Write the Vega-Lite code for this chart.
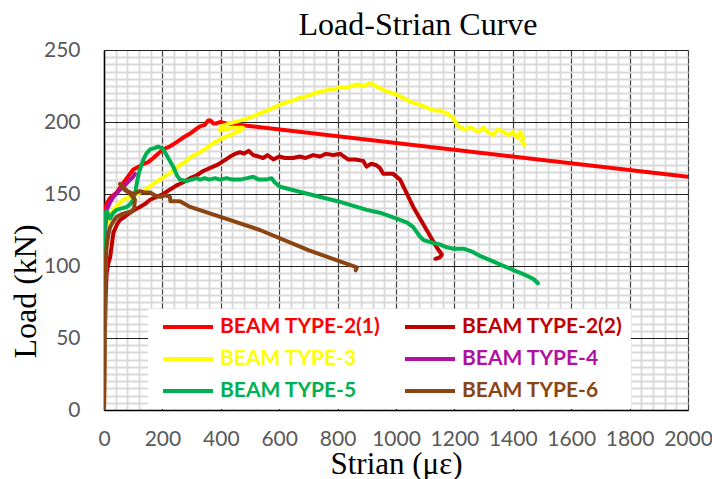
{
  "$schema": "https://vega.github.io/schema/vega-lite/v6.json",
  "autosize": "none",
  "width": 584,
  "height": 360,
  "padding": {"left": 104, "top": 50, "right": 24, "bottom": 69},
  "background": "white",
  "title": {"text": "Load-Strian Curve", "font": "Liberation Serif", "fontSize": 32, "fontWeight": "normal", "color": "black", "anchor": "middle", "dx": 22, "dy": 5, "offset": 2},
  "config": {"view": {"stroke": null}},
  "data": {"values": [
    {"s":"BEAM TYPE-2(1)","x":0,"y":0},{"s":"BEAM TYPE-2(1)","x":0,"y":60},{"s":"BEAM TYPE-2(1)","x":1,"y":120},{"s":"BEAM TYPE-2(1)","x":3,"y":138},{"s":"BEAM TYPE-2(1)","x":8,"y":143},{"s":"BEAM TYPE-2(1)","x":20,"y":147},{"s":"BEAM TYPE-2(1)","x":43,"y":151},{"s":"BEAM TYPE-2(1)","x":60,"y":156},{"s":"BEAM TYPE-2(1)","x":78,"y":161},{"s":"BEAM TYPE-2(1)","x":100,"y":167},{"s":"BEAM TYPE-2(1)","x":120,"y":169},{"s":"BEAM TYPE-2(1)","x":135,"y":171},{"s":"BEAM TYPE-2(1)","x":150,"y":172},{"s":"BEAM TYPE-2(1)","x":169,"y":175},{"s":"BEAM TYPE-2(1)","x":185,"y":178},{"s":"BEAM TYPE-2(1)","x":203,"y":181},{"s":"BEAM TYPE-2(1)","x":225,"y":183},{"s":"BEAM TYPE-2(1)","x":249,"y":186},{"s":"BEAM TYPE-2(1)","x":270,"y":189},{"s":"BEAM TYPE-2(1)","x":295,"y":192},{"s":"BEAM TYPE-2(1)","x":315,"y":195},{"s":"BEAM TYPE-2(1)","x":329,"y":197},{"s":"BEAM TYPE-2(1)","x":345,"y":198},{"s":"BEAM TYPE-2(1)","x":357,"y":201},{"s":"BEAM TYPE-2(1)","x":365,"y":201},{"s":"BEAM TYPE-2(1)","x":374,"y":199},{"s":"BEAM TYPE-2(1)","x":385,"y":199},{"s":"BEAM TYPE-2(1)","x":397,"y":200},{"s":"BEAM TYPE-2(1)","x":420,"y":199},{"s":"BEAM TYPE-2(1)","x":2000,"y":162},

    {"s":"BEAM TYPE-2(2)","x":0,"y":0},{"s":"BEAM TYPE-2(2)","x":3,"y":50},{"s":"BEAM TYPE-2(2)","x":6,"y":80},{"s":"BEAM TYPE-2(2)","x":9,"y":95},{"s":"BEAM TYPE-2(2)","x":15,"y":102},{"s":"BEAM TYPE-2(2)","x":21,"y":106},{"s":"BEAM TYPE-2(2)","x":27,"y":115},{"s":"BEAM TYPE-2(2)","x":32,"y":123},{"s":"BEAM TYPE-2(2)","x":45,"y":129},{"s":"BEAM TYPE-2(2)","x":55,"y":132},{"s":"BEAM TYPE-2(2)","x":70,"y":134},{"s":"BEAM TYPE-2(2)","x":89,"y":137},{"s":"BEAM TYPE-2(2)","x":105,"y":139},{"s":"BEAM TYPE-2(2)","x":123,"y":141},{"s":"BEAM TYPE-2(2)","x":140,"y":143},{"s":"BEAM TYPE-2(2)","x":158,"y":146},{"s":"BEAM TYPE-2(2)","x":180,"y":148},{"s":"BEAM TYPE-2(2)","x":203,"y":150},{"s":"BEAM TYPE-2(2)","x":225,"y":153},{"s":"BEAM TYPE-2(2)","x":249,"y":156},{"s":"BEAM TYPE-2(2)","x":270,"y":158},{"s":"BEAM TYPE-2(2)","x":295,"y":161},{"s":"BEAM TYPE-2(2)","x":318,"y":163},{"s":"BEAM TYPE-2(2)","x":340,"y":166},{"s":"BEAM TYPE-2(2)","x":362,"y":168},{"s":"BEAM TYPE-2(2)","x":386,"y":170},{"s":"BEAM TYPE-2(2)","x":410,"y":173},{"s":"BEAM TYPE-2(2)","x":432,"y":176},{"s":"BEAM TYPE-2(2)","x":450,"y":178},{"s":"BEAM TYPE-2(2)","x":466,"y":179},{"s":"BEAM TYPE-2(2)","x":480,"y":178},{"s":"BEAM TYPE-2(2)","x":495,"y":180},{"s":"BEAM TYPE-2(2)","x":511,"y":177},{"s":"BEAM TYPE-2(2)","x":530,"y":176},{"s":"BEAM TYPE-2(2)","x":545,"y":175},{"s":"BEAM TYPE-2(2)","x":560,"y":177},{"s":"BEAM TYPE-2(2)","x":580,"y":174},{"s":"BEAM TYPE-2(2)","x":600,"y":176},{"s":"BEAM TYPE-2(2)","x":620,"y":175},{"s":"BEAM TYPE-2(2)","x":648,"y":175},{"s":"BEAM TYPE-2(2)","x":670,"y":176},{"s":"BEAM TYPE-2(2)","x":690,"y":175},{"s":"BEAM TYPE-2(2)","x":716,"y":177},{"s":"BEAM TYPE-2(2)","x":740,"y":176},{"s":"BEAM TYPE-2(2)","x":760,"y":178},{"s":"BEAM TYPE-2(2)","x":785,"y":177},{"s":"BEAM TYPE-2(2)","x":808,"y":178},{"s":"BEAM TYPE-2(2)","x":822,"y":176},{"s":"BEAM TYPE-2(2)","x":836,"y":174},{"s":"BEAM TYPE-2(2)","x":860,"y":174},{"s":"BEAM TYPE-2(2)","x":888,"y":173},{"s":"BEAM TYPE-2(2)","x":899,"y":169},{"s":"BEAM TYPE-2(2)","x":915,"y":171},{"s":"BEAM TYPE-2(2)","x":933,"y":170},{"s":"BEAM TYPE-2(2)","x":945,"y":168},{"s":"BEAM TYPE-2(2)","x":956,"y":164},{"s":"BEAM TYPE-2(2)","x":990,"y":164},{"s":"BEAM TYPE-2(2)","x":1014,"y":160},{"s":"BEAM TYPE-2(2)","x":1059,"y":141},{"s":"BEAM TYPE-2(2)","x":1105,"y":125},{"s":"BEAM TYPE-2(2)","x":1139,"y":113},{"s":"BEAM TYPE-2(2)","x":1157,"y":108},{"s":"BEAM TYPE-2(2)","x":1150,"y":106},{"s":"BEAM TYPE-2(2)","x":1135,"y":105},

    {"s":"BEAM TYPE-3","x":0,"y":0},{"s":"BEAM TYPE-3","x":2,"y":60},{"s":"BEAM TYPE-3","x":5,"y":110},{"s":"BEAM TYPE-3","x":9,"y":128},{"s":"BEAM TYPE-3","x":20,"y":134},{"s":"BEAM TYPE-3","x":32,"y":139},{"s":"BEAM TYPE-3","x":50,"y":143},{"s":"BEAM TYPE-3","x":66,"y":146},{"s":"BEAM TYPE-3","x":100,"y":149},{"s":"BEAM TYPE-3","x":135,"y":152},{"s":"BEAM TYPE-3","x":169,"y":157},{"s":"BEAM TYPE-3","x":190,"y":160},{"s":"BEAM TYPE-3","x":215,"y":163},{"s":"BEAM TYPE-3","x":240,"y":167},{"s":"BEAM TYPE-3","x":260,"y":170},{"s":"BEAM TYPE-3","x":283,"y":173},{"s":"BEAM TYPE-3","x":300,"y":176},{"s":"BEAM TYPE-3","x":320,"y":178},{"s":"BEAM TYPE-3","x":352,"y":182},{"s":"BEAM TYPE-3","x":380,"y":186},{"s":"BEAM TYPE-3","x":400,"y":188},{"s":"BEAM TYPE-3","x":420,"y":190},{"s":"BEAM TYPE-3","x":445,"y":192},{"s":"BEAM TYPE-3","x":466,"y":194},{"s":"BEAM TYPE-3","x":476,"y":196},{"s":"BEAM TYPE-3","x":440,"y":196},{"s":"BEAM TYPE-3","x":397,"y":194},{"s":"BEAM TYPE-3","x":400,"y":197},{"s":"BEAM TYPE-3","x":430,"y":199},{"s":"BEAM TYPE-3","x":466,"y":201},{"s":"BEAM TYPE-3","x":500,"y":203},{"s":"BEAM TYPE-3","x":534,"y":206},{"s":"BEAM TYPE-3","x":560,"y":208},{"s":"BEAM TYPE-3","x":580,"y":210},{"s":"BEAM TYPE-3","x":603,"y":212},{"s":"BEAM TYPE-3","x":630,"y":214},{"s":"BEAM TYPE-3","x":650,"y":215},{"s":"BEAM TYPE-3","x":671,"y":217},{"s":"BEAM TYPE-3","x":700,"y":218},{"s":"BEAM TYPE-3","x":720,"y":220},{"s":"BEAM TYPE-3","x":740,"y":221},{"s":"BEAM TYPE-3","x":760,"y":222},{"s":"BEAM TYPE-3","x":790,"y":223},{"s":"BEAM TYPE-3","x":808,"y":224},{"s":"BEAM TYPE-3","x":830,"y":224},{"s":"BEAM TYPE-3","x":850,"y":225},{"s":"BEAM TYPE-3","x":870,"y":226},{"s":"BEAM TYPE-3","x":890,"y":225},{"s":"BEAM TYPE-3","x":911,"y":227},{"s":"BEAM TYPE-3","x":960,"y":222},{"s":"BEAM TYPE-3","x":1002,"y":219},{"s":"BEAM TYPE-3","x":1050,"y":214},{"s":"BEAM TYPE-3","x":1094,"y":211},{"s":"BEAM TYPE-3","x":1130,"y":208},{"s":"BEAM TYPE-3","x":1151,"y":208},{"s":"BEAM TYPE-3","x":1175,"y":206},{"s":"BEAM TYPE-3","x":1195,"y":203},{"s":"BEAM TYPE-3","x":1210,"y":198},{"s":"BEAM TYPE-3","x":1230,"y":195},{"s":"BEAM TYPE-3","x":1260,"y":196},{"s":"BEAM TYPE-3","x":1280,"y":193},{"s":"BEAM TYPE-3","x":1299,"y":196},{"s":"BEAM TYPE-3","x":1315,"y":193},{"s":"BEAM TYPE-3","x":1333,"y":191},{"s":"BEAM TYPE-3","x":1350,"y":195},{"s":"BEAM TYPE-3","x":1368,"y":193},{"s":"BEAM TYPE-3","x":1385,"y":191},{"s":"BEAM TYPE-3","x":1402,"y":193},{"s":"BEAM TYPE-3","x":1415,"y":189},{"s":"BEAM TYPE-3","x":1425,"y":193},{"s":"BEAM TYPE-3","x":1436,"y":189},{"s":"BEAM TYPE-3","x":1430,"y":187},{"s":"BEAM TYPE-3","x":1440,"y":184},

    {"s":"BEAM TYPE-4","x":0,"y":0},{"s":"BEAM TYPE-4","x":2,"y":80},{"s":"BEAM TYPE-4","x":4,"y":125},{"s":"BEAM TYPE-4","x":9,"y":139},{"s":"BEAM TYPE-4","x":20,"y":144},{"s":"BEAM TYPE-4","x":32,"y":148},{"s":"BEAM TYPE-4","x":50,"y":152},{"s":"BEAM TYPE-4","x":66,"y":155},{"s":"BEAM TYPE-4","x":85,"y":159},{"s":"BEAM TYPE-4","x":100,"y":162},{"s":"BEAM TYPE-4","x":106,"y":164},

    {"s":"BEAM TYPE-5","x":0,"y":0},{"s":"BEAM TYPE-5","x":1,"y":60},{"s":"BEAM TYPE-5","x":2,"y":120},{"s":"BEAM TYPE-5","x":3,"y":137},{"s":"BEAM TYPE-5","x":10,"y":138},{"s":"BEAM TYPE-5","x":21,"y":133},{"s":"BEAM TYPE-5","x":32,"y":137},{"s":"BEAM TYPE-5","x":43,"y":139},{"s":"BEAM TYPE-5","x":60,"y":140},{"s":"BEAM TYPE-5","x":78,"y":141},{"s":"BEAM TYPE-5","x":90,"y":143},{"s":"BEAM TYPE-5","x":100,"y":146},{"s":"BEAM TYPE-5","x":106,"y":150},{"s":"BEAM TYPE-5","x":112,"y":157},{"s":"BEAM TYPE-5","x":120,"y":165},{"s":"BEAM TYPE-5","x":135,"y":174},{"s":"BEAM TYPE-5","x":145,"y":178},{"s":"BEAM TYPE-5","x":158,"y":181},{"s":"BEAM TYPE-5","x":175,"y":182},{"s":"BEAM TYPE-5","x":186,"y":183},{"s":"BEAM TYPE-5","x":195,"y":182},{"s":"BEAM TYPE-5","x":203,"y":181},{"s":"BEAM TYPE-5","x":220,"y":175},{"s":"BEAM TYPE-5","x":237,"y":169},{"s":"BEAM TYPE-5","x":250,"y":163},{"s":"BEAM TYPE-5","x":260,"y":160},{"s":"BEAM TYPE-5","x":283,"y":159},{"s":"BEAM TYPE-5","x":300,"y":160},{"s":"BEAM TYPE-5","x":315,"y":161},{"s":"BEAM TYPE-5","x":329,"y":160},{"s":"BEAM TYPE-5","x":345,"y":161},{"s":"BEAM TYPE-5","x":360,"y":160},{"s":"BEAM TYPE-5","x":380,"y":161},{"s":"BEAM TYPE-5","x":397,"y":160},{"s":"BEAM TYPE-5","x":420,"y":161},{"s":"BEAM TYPE-5","x":440,"y":160},{"s":"BEAM TYPE-5","x":466,"y":160},{"s":"BEAM TYPE-5","x":490,"y":161},{"s":"BEAM TYPE-5","x":511,"y":162},{"s":"BEAM TYPE-5","x":530,"y":160},{"s":"BEAM TYPE-5","x":555,"y":160},{"s":"BEAM TYPE-5","x":574,"y":161},{"s":"BEAM TYPE-5","x":585,"y":158},{"s":"BEAM TYPE-5","x":603,"y":155},{"s":"BEAM TYPE-5","x":700,"y":150},{"s":"BEAM TYPE-5","x":800,"y":145},{"s":"BEAM TYPE-5","x":900,"y":139},{"s":"BEAM TYPE-5","x":945,"y":137},{"s":"BEAM TYPE-5","x":1014,"y":132},{"s":"BEAM TYPE-5","x":1040,"y":130},{"s":"BEAM TYPE-5","x":1059,"y":127},{"s":"BEAM TYPE-5","x":1080,"y":121},{"s":"BEAM TYPE-5","x":1094,"y":118},{"s":"BEAM TYPE-5","x":1128,"y":116},{"s":"BEAM TYPE-5","x":1150,"y":115},{"s":"BEAM TYPE-5","x":1174,"y":113},{"s":"BEAM TYPE-5","x":1197,"y":112},{"s":"BEAM TYPE-5","x":1231,"y":112},{"s":"BEAM TYPE-5","x":1260,"y":110},{"s":"BEAM TYPE-5","x":1288,"y":107},{"s":"BEAM TYPE-5","x":1380,"y":99},{"s":"BEAM TYPE-5","x":1440,"y":94},{"s":"BEAM TYPE-5","x":1471,"y":91},{"s":"BEAM TYPE-5","x":1486,"y":88},

    {"s":"BEAM TYPE-6","x":0,"y":0},{"s":"BEAM TYPE-6","x":1,"y":50},{"s":"BEAM TYPE-6","x":3,"y":95},{"s":"BEAM TYPE-6","x":9,"y":113},{"s":"BEAM TYPE-6","x":15,"y":122},{"s":"BEAM TYPE-6","x":21,"y":127},{"s":"BEAM TYPE-6","x":32,"y":131},{"s":"BEAM TYPE-6","x":43,"y":134},{"s":"BEAM TYPE-6","x":60,"y":136},{"s":"BEAM TYPE-6","x":78,"y":137},{"s":"BEAM TYPE-6","x":95,"y":138},{"s":"BEAM TYPE-6","x":103,"y":140},{"s":"BEAM TYPE-6","x":106,"y":146},{"s":"BEAM TYPE-6","x":90,"y":150},{"s":"BEAM TYPE-6","x":70,"y":153},{"s":"BEAM TYPE-6","x":55,"y":157},{"s":"BEAM TYPE-6","x":65,"y":155},{"s":"BEAM TYPE-6","x":80,"y":152},{"s":"BEAM TYPE-6","x":100,"y":150},{"s":"BEAM TYPE-6","x":123,"y":152},{"s":"BEAM TYPE-6","x":140,"y":151},{"s":"BEAM TYPE-6","x":158,"y":151},{"s":"BEAM TYPE-6","x":175,"y":149},{"s":"BEAM TYPE-6","x":192,"y":148},{"s":"BEAM TYPE-6","x":210,"y":149},{"s":"BEAM TYPE-6","x":226,"y":148},{"s":"BEAM TYPE-6","x":227,"y":145},{"s":"BEAM TYPE-6","x":245,"y":145},{"s":"BEAM TYPE-6","x":260,"y":145},{"s":"BEAM TYPE-6","x":295,"y":141},{"s":"BEAM TYPE-6","x":534,"y":125},{"s":"BEAM TYPE-6","x":700,"y":111},{"s":"BEAM TYPE-6","x":866,"y":99},{"s":"BEAM TYPE-6","x":862,"y":97}
  ]},
  "transform": [{"window": [{"op": "row_number", "as": "idx"}]}],
  "mark": {"type": "line", "strokeWidth": 4, "strokeJoin": "round", "strokeCap": "round", "clip": true},
  "encoding": {
    "x": {"field": "x", "type": "quantitative",
      "scale": {"domain": [0, 2000], "nice": false, "zero": false},
      "axis": {
        "title": "Strian (με)", "titleFont": "Liberation Serif", "titleFontSize": 31, "titleFontWeight": "normal", "titleColor": "black",
        "titleBaseline": "alphabetic", "titleY": 63,
        "values": [0,40,80,120,160,200,240,280,320,360,400,440,480,520,560,600,640,680,720,760,800,840,880,920,960,1000,1040,1080,1120,1160,1200,1240,1280,1320,1360,1400,1440,1480,1520,1560,1600,1640,1680,1720,1760,1800,1840,1880,1920,1960,2000],
        "format": "d",
        "labelExpr": "datum.value % 200 === 0 ? datum.label : ''",
        "labelFont": "Lato", "labelFontSize": 21, "labelColor": "#595959", "labelPadding": 18, "labelFlush": false, "labelOverlap": false, "labelBound": false,
        "ticks": false, "tickSize": 0,
        "domainColor": "black", "domainWidth": 1.5,
        "grid": true,
        "gridColor": {"condition": {"test": "datum.value % 200 === 0", "value": "#404040"}, "value": "#d9d9d9"},
        "gridWidth": {"condition": {"test": "datum.value % 200 === 0", "value": 1.2}, "value": 1.8}
      }},
    "y": {"field": "y", "type": "quantitative",
      "scale": {"domain": [0, 250], "nice": false, "zero": false},
      "axis": {
        "title": "Load (kN)", "titleFont": "Liberation Serif", "titleFontSize": 32, "titleFontWeight": "normal", "titleColor": "black",
        "titleAngle": 270, "titleBaseline": "middle", "titleAlign": "center", "titleX": -79, "titleY": 241,
        "values": [0,5,10,15,20,25,30,35,40,45,50,55,60,65,70,75,80,85,90,95,100,105,110,115,120,125,130,135,140,145,150,155,160,165,170,175,180,185,190,195,200,205,210,215,220,225,230,235,240,245,250],
        "format": "d",
        "labelExpr": "datum.value % 50 === 0 ? datum.label : ''",
        "labelFont": "Lato", "labelFontSize": 21, "labelColor": "#595959", "labelPadding": 24, "labelOverlap": false, "labelBound": false, "labelFlush": false,
        "ticks": false, "tickSize": 0,
        "domainColor": "black", "domainWidth": 1.5,
        "grid": true,
        "gridColor": {"condition": {"test": "datum.value % 50 === 0", "value": "#202020"}, "value": "#d9d9d9"},
        "gridWidth": {"condition": {"test": "datum.value % 50 === 0", "value": 1.2}, "value": 1.8}
      }},
    "color": {"field": "s", "type": "nominal",
      "scale": {"domain": ["BEAM TYPE-2(1)", "BEAM TYPE-2(2)", "BEAM TYPE-3", "BEAM TYPE-4", "BEAM TYPE-5", "BEAM TYPE-6"],
                "range": ["#FF0000", "#C00000", "#FFFF00", "#B0129F", "#00B050", "#8B4513"]},
      "legend": {
        "title": null, "orient": "none", "direction": "horizontal", "legendX": 44, "legendY": 259, "columns": 2,
        "fillColor": "white", "padding": 8, "strokeColor": null,
        "symbolType": "stroke", "symbolSize": 2500, "symbolStrokeWidth": 4, "symbolOffset": 5, "clipHeight": 20,
        "labelOffset": 5, "labelFont": "Lato", "labelFontWeight": "bold", "labelFontSize": 21, "labelLimit": 400,
        "rowPadding": 11, "columnPadding": 17,
        "encode": {"labels": {"update": {"fill": {"scale": "color", "field": "value"}}}}
      }},
    "order": {"field": "idx", "type": "quantitative"}
  }
}
